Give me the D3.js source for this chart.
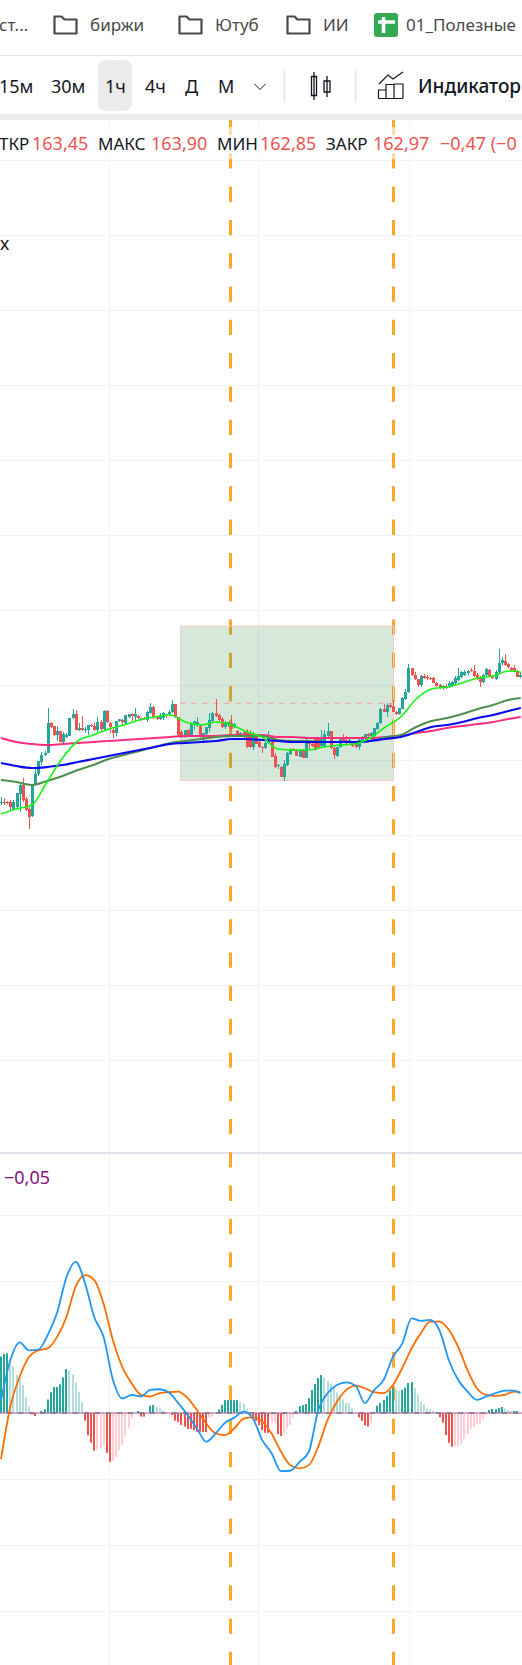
<!DOCTYPE html>
<html>
<head>
<meta charset="utf-8">
<script src="https://cdn.jsdelivr.net/npm/d3@7/dist/d3.min.js"></script>
<style>
  html, body { margin: 0; padding: 0; background: #fff; overflow: hidden; }
  svg { display: block; }
  text { font-family: "Noto Sans", sans-serif; }
</style>
</head>
<body>
<div id="chart"></div>
<script>
//////////////////////////////////
// DATA
const opens = [149.7,149.8,149.8,149.8,149.1,149.3,150.6,151.5,150.1,149.1,148.4,151.6,152.6,153.8,154.5,154.7,157.7,157.4,156.5,156.9,155.8,156.3,156.4,158.2,158.6,157,157.2,157,157,157.5,157.4,157,157.8,157.1,158.9,157.7,157,156.7,157.9,158,157.7,158.3,158.6,158.3,158.4,158.2,158.1,158,158.7,159.3,158.3,158.1,158.2,158.5,158.6,158.8,159.6,158.3,156.8,156.4,157,156.4,157.5,157.5,157.4,156.2,156.6,157.2,157.9,158.7,158.5,158.1,157.3,157.6,157.7,157.3,156.9,156.5,156.8,156.8,156.4,155.3,156.3,155.8,155.3,155.2,155.7,156.3,154.4,153.4,153.3,152.3,153.5,154.6,155.1,155,154.3,155,154.2,155.7,155.6,156.1,156.2,155.4,155.4,156.4,156.9,155.2,154.4,155.3,156.1,156,155.7,155.8,155.7,155.3,156,156.2,156.6,156.4,156.4,157.1,157.7,159.1,158.8,159.5,159.4,158.8,158.6,159.1,160.1,160.8,163.2,162.5,162.1,161.5,162.4,162.3,162.2,162.2,161.7,161.5,161.2,161.4,161.3,161.4,161.7,162,162.3,162.5,162.7,163,162.9,162.5,162.2,161.8,162.5,163,162.4,162.1,162.8,163.7,163.9,163.6,163.2,163.2,162.9,162.3];
const highs = [150.3,150.2,149.9,150,150,150.7,151.8,152.2,150.3,149.3,151.6,153.3,153.9,154.8,154.9,159.2,157.8,157.4,157.4,156.9,156.8,156.7,158.2,159.1,159,157.7,158.4,157.3,157.5,157.6,157.7,158.3,158,159,159,157.8,157.3,157.9,158.1,158.1,158.5,158.6,158.7,159.2,158.5,158.2,158.3,158.9,159.7,159.4,158.4,158.7,158.8,158.6,159,160,159.6,158.3,157,157,157.1,157.6,157.9,158.3,157.5,156.7,157.3,158.7,158.8,160.1,158.6,158.3,157.9,157.8,158.5,157.7,157,156.8,156.9,157.1,157,156.8,156.6,155.9,155.4,155.8,156.9,156.4,154.7,153.6,153.4,154,154.8,155.2,155.2,155.1,155.1,155.1,156.2,155.9,155.8,156.2,156.3,157,157,157.7,156.9,155.3,155.3,156.2,156.6,156.4,156.1,155.9,155.8,156.1,156.4,156.6,156.7,156.8,157.2,157.8,159.2,159.6,159.7,159.7,160,158.9,159.2,160.3,161.1,163.6,163.2,162.8,162.1,162.5,162.6,162.5,162.3,162.3,161.8,161.6,161.5,161.6,161.9,161.9,162.4,163.2,162.9,163,163,163.2,163.5,162.7,162.4,162.6,163.2,163.1,162.5,163,165.1,164.3,164.6,163.7,163.3,163.5,163,162.8];
const lows = [149.5,149.5,149.6,149,149,149.2,148.8,149.8,148.9,147.1,148.3,151.5,152.4,153.5,154.4,154.7,157.2,156.4,155.9,155.8,155.7,156.2,156.4,158.1,157,156.9,156.9,156.7,156.5,157.3,156.9,156.8,156.8,157,157.7,156.7,156.2,156.4,157.8,157.4,157.5,158.2,157.9,157.8,157.9,157.9,158,157.8,158.6,158.1,158,158,158,158.2,158.4,158.7,158.2,156.4,156.2,156.2,156.3,156.3,157,157.3,156.2,155.7,156.5,156.8,157.8,158.3,157.9,157.2,157.1,157.3,156.9,157.2,156.5,156.3,156.2,155.2,155.2,155,155.6,155.2,154.7,155.1,155.6,154.3,153.2,153.1,152.3,151.9,153.4,154.5,154.9,154.4,154.3,154.2,154.2,155.1,155.3,155,155.2,155.2,155.3,156.3,155.1,154.1,154.3,155.2,155.9,155.6,155.5,155.3,155.2,155,155.9,156.1,156.3,156.3,156.3,157,157.6,158.8,158.3,159.2,158.8,158.5,158.5,159.1,160,160.7,162.4,162,161.3,161.3,162.1,162,162,161.7,161.3,161.1,161,161.1,161.2,161.3,161.5,161.9,162.2,162.4,162.5,162.8,162.3,162,161.3,161.7,162.4,162.4,162.1,162,162.7,163.5,163.4,163.2,162.9,162.8,162.3,162.2];
const closes = [149.8,149.7,149.7,149.3,149.8,150.7,151.5,150,149,148.3,151.6,152.6,153.9,154.5,154.7,157.7,157.3,156.5,156.9,155.8,156.6,156.5,158.2,158.6,157,157.2,157,157.1,157.5,157.4,157,157.8,157.1,158.9,157.8,157.3,156.7,157.9,158.1,157.8,158.5,158.6,158.4,158.6,158.2,158.1,158.2,158.8,159.3,158.3,158.1,158.5,158.7,158.4,158.8,159.6,158.3,156.5,156.3,157,156.4,157.6,157.9,157.8,156.3,156.7,157.3,158,158.7,158.4,158,157.3,157.8,157.8,157.1,157.6,156.5,156.7,156.3,155.3,155.3,156.4,155.6,155.3,155.2,155.7,156.4,154.3,153.3,153.5,152.3,153.6,154.7,155.1,154.9,154.4,155,154.2,155.7,155.6,155.4,155,155.3,156.2,156.6,156.9,155.2,154.5,155.3,156.2,155.9,155.8,156,155.4,155.3,156,156.3,156.6,156.4,156.7,157.2,157.7,159.1,158.8,159.5,159.3,158.8,158.6,159.2,160.2,160.8,163.2,162.5,162.1,161.5,162.4,162.2,162.2,162.1,161.7,161.4,161.2,161.4,161.3,161.7,161.8,162.2,162.4,162.8,162.8,162.9,162.9,162.4,162.1,161.8,162.5,163.1,162.4,162.2,162.8,163.7,164,163.5,163.3,163,162.9,162.3,162.5];

// moving averages, read at these bar positions
const maBars = [0,4.9,9.9,14.8,19.8,24.7,29.7,34.6,39.5,44.5,49.4,54.4,59.3,64.3,69.2,74.2,79.1,84,89,93.9,98.9,103.8,108.8,113.7,118.6,123.6,128.5,133.5,138.4,143.4,148.3,153.3,158.2,163.1,167.1];
const maFast = [148.6,149.1,149.5,151.8,154.2,155.9,156.5,157.1,157.5,158,158.3,158.5,157.8,157.5,157.8,157.5,156.8,156.3,155.1,155,155,155.3,155.5,155.6,156.2,157.3,158.3,160.1,161.1,161.3,161.7,162.2,162.4,162.9,162.8];
const maMid = [152,151.8,151.5,151.9,152.4,153,153.5,154.1,154.5,154.9,155.3,155.7,155.9,156.1,156.3,156.4,156.4,156.4,156,155.9,155.9,155.8,155.8,155.8,155.9,156.3,156.5,157.3,157.9,158.2,158.6,159.1,159.5,160,160.2];
const maSlow = [153.7,153.4,153.2,153.3,153.5,153.8,154.1,154.4,154.7,155,155.3,155.6,155.7,155.8,155.9,156.1,156.1,156,155.9,155.8,155.8,155.8,155.8,155.8,155.9,156.1,156.3,156.8,157.3,157.5,157.8,158.2,158.5,158.9,159.2];
const maLong = [156.2,155.8,155.6,155.5,155.6,155.7,155.8,155.9,156,156.1,156.2,156.3,156.4,156.4,156.4,156.5,156.5,156.5,156.3,156.3,156.2,156.2,156.2,156.2,156.2,156.3,156.4,156.7,156.9,157.2,157.4,157.6,157.8,158.1,158.3];

// MACD pane
const histogram = [1.71,1.79,1.81,1.51,1.41,1.15,1.05,.85,.49,.19,-.04,-.09,0,.06,.11,.41,.63,.79,.79,.87,1.08,1.33,1.29,1.17,.92,.65,.33,-.23,-.67,-.9,-1.14,-1.11,-1.07,-1,-1.21,-1.48,-1.45,-1.33,-1.12,-.97,-.72,-.46,-.16,0,.06,-.11,-.11,-.01,.22,.24,.19,.17,.09,.01,0,-.06,-.23,-.28,-.36,-.41,-.48,-.48,-.52,-.57,-.57,-.58,-.58,-.14,-.13,-.01,.11,.24,.39,.39,.39,.39,.39,.34,.29,.13,.02,-.11,-.24,-.37,-.52,-.6,-.6,-.31,-.29,-.64,-.7,-.59,-.47,-.37,-.14,.06,.21,.24,.27,.45,.7,.88,1.06,1.15,1.07,.97,.9,.8,.62,.55,.41,.31,.3,.16,.03,-.13,-.24,-.37,-.41,-.29,-.01,.22,.3,.39,.52,.68,.77,.73,.68,.7,.77,.91,.94,.75,.55,.35,.26,.14,.12,.07,.01,-.13,-.29,-.67,-.9,-1.02,-1.01,-1,-.94,-.79,-.64,-.48,-.41,-.33,-.31,-.19,-.06,.09,.12,.12,.15,.18,.14,.09,.06,.06,.06,.01];
const macdBars = [0,3,6,9,12,15,18,21,24,27,30,33,36,39,42,45,48,51,54,57,60,63,66,69,72,75,78,81,84,87,90,93,96,99,102,105,108,111,114,117,120,123,126,129,132,135,138,141,144,147,150,153,156,159,162,165,167];
const macdLine = [.39,1.6,2.14,1.9,1.92,2.36,3.03,4.1,4.58,3.94,2.9,2.3,1,.44,.55,.5,.7,.72,.62,.3,-.06,-.47,-.87,-.62,-.3,-.14,.04,-.17,-.82,-1.22,-1.76,-1.75,-1.48,-1.17,.09,.6,.85,.93,.83,.3,.7,1,1.7,2.1,2.87,2.79,2.82,2.5,1.6,1,.65,.4,.5,.6,.68,.68,.6];
const signalLine = [-1.4,.19,1.1,1.7,1.9,1.96,2.3,2.9,3.83,4.18,4.03,3.3,2.2,1.4,.9,.55,.5,.6,.63,.65,.45,.09,-.32,-.62,-.67,-.47,-.17,-.13,-.26,-.62,-1.17,-1.58,-1.68,-1.58,-1.02,-.21,.34,.7,.83,.75,.63,.6,.85,1.36,1.96,2.42,2.77,2.77,2.52,2,1.3,.75,.55,.52,.55,.65,.63];

// grid values
const priceTicks = [214,206.5,199,191.5,184,176.5,169,161.5,154,146.5,139,131.5,124];
const macdTicks = [6,4,2,0,-2,-4,-6];
const timeTicks = [34.6,82.7,131.3];

// drawn objects, in bars and price
const zoneBars = [57.7,126.2];
const zonePrices = [167.4,151.95];
const zoneDashPrice = 159.67;
const markerBars = [73.8,126.2];

// texts
const bookmarks = ['ст...','биржи','Ютуб','ИИ','01_Полезные'];
const intervals = ['15м','30м','1ч','4ч','Д','М'];
const legendLabels = ['ТКР','МАКС','МИН','ЗАКР'];
const legendValues = ['163,45','163,90','162,85','162,97'];
const legendChange = '−0,47 (−0';
const macdValue = '−0,05';

//////////////////////////////////
// LAYOUT
const width = 522,
      height = 1665,
      plotTop = 120;

const barX = d3.scaleLinear().domain([0, 167]).range([1, 520.4]);
const priceY = d3.scaleLinear().domain([230, 63.5]).range([0, 1665]);
const macdY = d3.scaleLinear().domain([0, -1]).range([1413, 1446]);

const green = '#26a69a',
      red = '#ef5350',
      gridColor = '#f2f3f5';

const $svg = d3.select('#chart').append('svg')
  .attr('width', width)
  .attr('height', height)
  .attr('viewBox', `0 0 ${width} ${height}`);

$svg.append('defs').append('clipPath').attr('id', 'plot')
  .append('rect').attr('x', 0).attr('y', plotTop).attr('width', width).attr('height', height - plotTop);

const $plot = $svg.append('g').attr('clip-path', 'url(#plot)');

//////////////////////////////////
// GRID
$plot.selectAll('line.h').data(priceTicks).enter().append('line')
  .attr('x1', 0).attr('x2', width)
  .attr('y1', d => Math.round(priceY(d)) + 0.5).attr('y2', d => Math.round(priceY(d)) + 0.5)
  .attr('stroke', gridColor);

$plot.selectAll('line.m').data(macdTicks.filter(d => d !== 0)).enter().append('line')
  .attr('x1', 0).attr('x2', width)
  .attr('y1', d => Math.round(macdY(d)) + 0.5).attr('y2', d => Math.round(macdY(d)) + 0.5)
  .attr('stroke', gridColor);

$plot.selectAll('line.v').data(timeTicks).enter().append('line')
  .attr('x1', d => Math.round(barX(d)) + 0.5).attr('x2', d => Math.round(barX(d)) + 0.5)
  .attr('y1', plotTop).attr('y2', height)
  .attr('stroke', gridColor);

// pane separator
$plot.append('rect').attr('x', 0).attr('y', 1152).attr('width', width).attr('height', 2).attr('fill', '#e0e3eb');

//////////////////////////////////
// MARKERS AND ZONE
$plot.selectAll('line.marker').data(markerBars).enter().append('line')
  .attr('x1', d => barX(d)).attr('x2', d => barX(d))
  .attr('y1', plotTop).attr('y2', height)
  .attr('stroke', '#ffa726').attr('stroke-width', 3)
  .attr('stroke-dasharray', '15.3 18');

// legend background fades the markers a little
$plot.append('rect').attr('x', 0).attr('y', 127).attr('width', width).attr('height', 32)
  .attr('fill', '#fff').attr('opacity', 0.6);

$plot.append('rect')
  .attr('x', barX(zoneBars[0])).attr('y', priceY(zonePrices[0]))
  .attr('width', barX(zoneBars[1]) - barX(zoneBars[0]))
  .attr('height', priceY(zonePrices[1]) - priceY(zonePrices[0]))
  .attr('fill', 'rgb(50,140,70)').attr('fill-opacity', 0.2)
  .attr('stroke', '#ffc9c9').attr('stroke-width', 1);

$plot.append('line')
  .attr('x1', barX(zoneBars[0])).attr('x2', barX(zoneBars[1]))
  .attr('y1', priceY(zoneDashPrice)).attr('y2', priceY(zoneDashPrice))
  .attr('stroke', '#f2a0a0').attr('stroke-dasharray', '5 6');

//////////////////////////////////
// CANDLES
const bars = opens.map((o, i) => ({i, o, h: highs[i], l: lows[i], c: closes[i]}));
const $bars = $plot.append('g').selectAll('g').data(bars).enter().append('g')
  .attr('fill', d => d.c >= d.o ? green : red);

$bars.append('rect')
  .attr('x', d => Math.round(barX(d.i))).attr('width', 1)
  .attr('y', d => priceY(d.h)).attr('height', d => priceY(d.l) - priceY(d.h));

$bars.append('rect')
  .attr('x', d => Math.round(barX(d.i)) - 1).attr('width', 3)
  .attr('y', d => Math.round(priceY(Math.max(d.o, d.c))))
  .attr('height', d => Math.max(1, Math.round(Math.abs(priceY(d.o) - priceY(d.c)))));

//////////////////////////////////
// MOVING AVERAGES
const maLine = d3.line()
  .x((d, i) => barX(maBars[i]))
  .y(d => priceY(d))
  .curve(d3.curveMonotoneX);

[[maLong, '#ff2f80', 2], [maMid, '#4f8f4f', 2], [maSlow, '#0a0af0', 2.2], [maFast, '#14f514', 1.6]].forEach(s => {
  $plot.append('path').datum(s[0])
    .attr('fill', 'none').attr('stroke', s[1]).attr('stroke-width', s[2])
    .attr('d', maLine);
});

//////////////////////////////////
// MACD PANE
const histColor = (d, i) => {
  const prev = i > 0 ? histogram[i - 1] : -Infinity;
  if (d >= 0) return d >= prev ? green : '#b2dfdb';
  return d <= prev ? red : '#ffcdd2';
};

$plot.append('g').selectAll('rect').data(histogram).enter().append('rect')
  .attr('x', (d, i) => Math.round(barX(i)) - 1).attr('width', 2)
  .attr('y', d => Math.min(macdY(d), macdY(0)))
  .attr('height', d => Math.abs(macdY(d) - macdY(0)))
  .attr('fill', histColor);

$plot.append('line')
  .attr('x1', 0).attr('x2', width)
  .attr('y1', macdY(0)).attr('y2', macdY(0))
  .attr('stroke', '#c04f9a').attr('stroke-width', 1);

$plot.append('line')
  .attr('x1', 7).attr('x2', width)
  .attr('y1', macdY(0)).attr('y2', macdY(0))
  .attr('stroke', '#787b86').attr('stroke-width', 1.5)
  .attr('stroke-dasharray', '5 6');

const macdPath = d3.line()
  .x((d, i) => barX(macdBars[i]))
  .y(d => macdY(d))
  .curve(d3.curveMonotoneX);

[[signalLine, '#ff6d00'], [macdLine, '#2196f3']].forEach(s => {
  $plot.append('path').datum(s[0])
    .attr('fill', 'none').attr('stroke', s[1]).attr('stroke-width', 1.8)
    .attr('d', macdPath);
});

//////////////////////////////////
// LEGEND TEXTS
const $legend = $svg.append('g').attr('font-size', 18);

[[-1, 32], [98, 151], [217, 260], [326, 373]].forEach((pos, i) => {
  $legend.append('text').attr('x', pos[0]).attr('y', 150).attr('font-size', 17).attr('fill', '#131722').text(legendLabels[i]);
  $legend.append('text').attr('x', pos[1]).attr('y', 150).attr('fill', red).text(legendValues[i]);
});

$legend.append('text').attr('x', 440).attr('y', 150).attr('fill', red).text(legendChange);
$legend.append('text').attr('x', 0).attr('y', 250).attr('fill', '#131722').text('х');
$legend.append('text').attr('x', 4).attr('y', 1184).attr('fill', '#880e7f').text(macdValue);

//////////////////////////////////
// TOOLBAR
const $top = $svg.append('g');

$top.append('line').attr('x1', 0).attr('x2', width).attr('y1', 55.5).attr('y2', 55.5).attr('stroke', '#e3e3e3');
$top.append('rect').attr('x', 0).attr('y', 114).attr('width', width).attr('height', 6).attr('fill', '#ebebeb');
$top.append('rect').attr('x', 98).attr('y', 60).attr('width', 34).attr('height', 51).attr('rx', 8).attr('fill', '#ebebeb');

[-1, 51, 105, 145, 185, 218].forEach((x, i) => {
  $top.append('text').attr('x', x).attr('y', 93).attr('font-size', 18).attr('fill', '#131722').text(intervals[i]);
});

// chevron
$top.append('path').attr('d', 'M254.5 84 L260 89.5 L265.5 84').attr('fill', 'none').attr('stroke', '#131722').attr('stroke-width', 1);

// separators
[284.5, 355.5].forEach(x => {
  $top.append('line').attr('x1', x).attr('x2', x).attr('y1', 69).attr('y2', 102).attr('stroke', '#e0e3eb').attr('stroke-width', 1.5);
});

// candle icon
$top.append('path')
  .attr('d', 'M314 72 V100 M311.5 76.5 H316.5 V95.5 H311.5 Z M327 76 V97 M324 81 H330 V92 H324 Z')
  .attr('fill', 'none').attr('stroke', '#131722').attr('stroke-width', 1.3);

// indicators icon
$top.append('path')
  .attr('d', 'M378.5 98.5 H403 M378.5 98.5 V90 H386 V98.5 M386 98.5 V84.5 H394 V98.5 M394 98.5 V84 H403 V98.5 M379 84 L388 75 L393 79 L403 72')
  .attr('fill', 'none').attr('stroke', '#131722').attr('stroke-width', 1.2);

$top.append('text').attr('x', 418).attr('y', 93).attr('font-size', 19).attr('font-weight', 500)
  .attr('fill', '#131722').text('Индикатор');

//////////////////////////////////
// BOOKMARK BAR
[-1, 90, 215, 323, 406].forEach((x, i) => {
  $top.append('text').attr('x', x).attr('y', 31).attr('font-size', 17).attr('fill', '#4a4a4a').text(bookmarks[i]);
});

[53.5, 178.5, 286.5].forEach(x => {
  $top.append('path')
    .attr('d', `M${x + 1} 16.5 H${x + 8} L${x + 11} 19.5 H${x + 23} V33.5 H${x + 1} Z`)
    .attr('fill', 'none').attr('stroke', '#4a4a4a').attr('stroke-width', 2.2).attr('stroke-linejoin', 'round');
});

$top.append('rect').attr('x', 374).attr('y', 13).attr('width', 24).attr('height', 24).attr('rx', 3).attr('fill', '#34a853');
$top.append('path').attr('d', 'M378 22 H395 M383.5 17 V33').attr('stroke', '#fff').attr('stroke-width', 3.5);
</script>
</body>
</html>
